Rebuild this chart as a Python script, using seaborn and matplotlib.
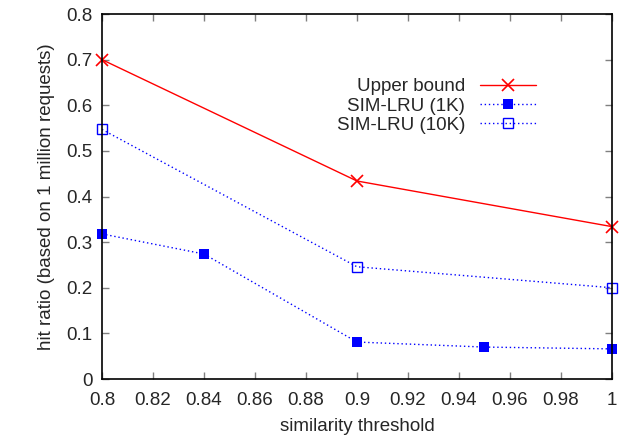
import matplotlib
matplotlib.use("Agg")
import matplotlib.pyplot as plt
import seaborn as sns
import pandas as pd

sns.set_style("ticks")
plt.rcParams['font.family'] = ['Liberation Sans', 'DejaVu Sans']

ub_x = [0.8, 0.9, 1.0]
ub_y = [0.70, 0.434, 0.334]
k1_x = [0.8, 0.84, 0.9, 0.95, 1.0]
k1_y = [0.318, 0.274, 0.081, 0.070, 0.066]
k10_x = [0.8, 0.9, 1.0]
k10_y = [0.547, 0.246, 0.200]

xticks = [0.8, 0.82, 0.84, 0.86, 0.88, 0.9, 0.92, 0.94, 0.96, 0.98, 1.0]
xticklabels = ["0.8", "0.82", "0.84", "0.86", "0.88", "0.9", "0.92", "0.94", "0.96", "0.98", "1"]
yticks = [0, 0.1, 0.2, 0.3, 0.4, 0.5, 0.6, 0.7, 0.8]
yticklabels = ["0", "0.1", "0.2", "0.3", "0.4", "0.5", "0.6", "0.7", "0.8"]

fs = 13.5

fig = plt.figure(figsize=(6.2, 4.38), dpi=100)
ax = fig.add_axes([0.1645, 0.1347, 0.8225, 0.8333])

sns.lineplot(x=ub_x, y=ub_y, ax=ax, color="#ff0000", linewidth=1.0, marker="x",
             markersize=9, markeredgewidth=1.2, markeredgecolor="#ff0000",
             label="Upper bound", clip_on=False)
sns.lineplot(x=k1_x, y=k1_y, ax=ax, color="#0000ff", linewidth=1.0, linestyle=(0, (1, 2)),
             marker="s", markersize=7, markeredgewidth=0, label="SIM-LRU (1K)", clip_on=False)
sns.lineplot(x=k10_x, y=k10_y, ax=ax, color="#0000ff", linewidth=1.0, linestyle=(0, (1, 2)),
             marker="s", markersize=7, markerfacecolor="none", markeredgecolor="#0000ff",
             markeredgewidth=1.0, label="SIM-LRU (10K)", clip_on=False)

ax.set_xlim(0.8, 1.0)
ax.set_ylim(0, 0.8)
ax.set_xticks(xticks)
ax.set_xticklabels(xticklabels)
ax.set_yticks(yticks)
ax.set_yticklabels(yticklabels)
ax.tick_params(direction="in", top=True, right=True, length=5, width=1, labelsize=fs,
               color="#808080")
ax.tick_params(axis="x", pad=9)
ax.tick_params(axis="y", pad=7)
for s in ax.spines.values():
    s.set_visible(True)
    s.set_linewidth(1.2)
    s.set_color("black")
ax.set_xlabel("similarity threshold", fontsize=fs, labelpad=7)
ax.set_ylabel("hit ratio (based on 1 million requests)", fontsize=fs, labelpad=8)

leg = ax.legend(loc="upper right", bbox_to_anchor=(0.87, 0.85), frameon=False,
                markerfirst=False, fontsize=fs, handlelength=3.0, handletextpad=0.8,
                labelspacing=0.12, borderpad=0)
for t in leg.get_texts():
    t.set_ha("right")
ax.grid(False)

fig.savefig("out.png", dpi=100)
